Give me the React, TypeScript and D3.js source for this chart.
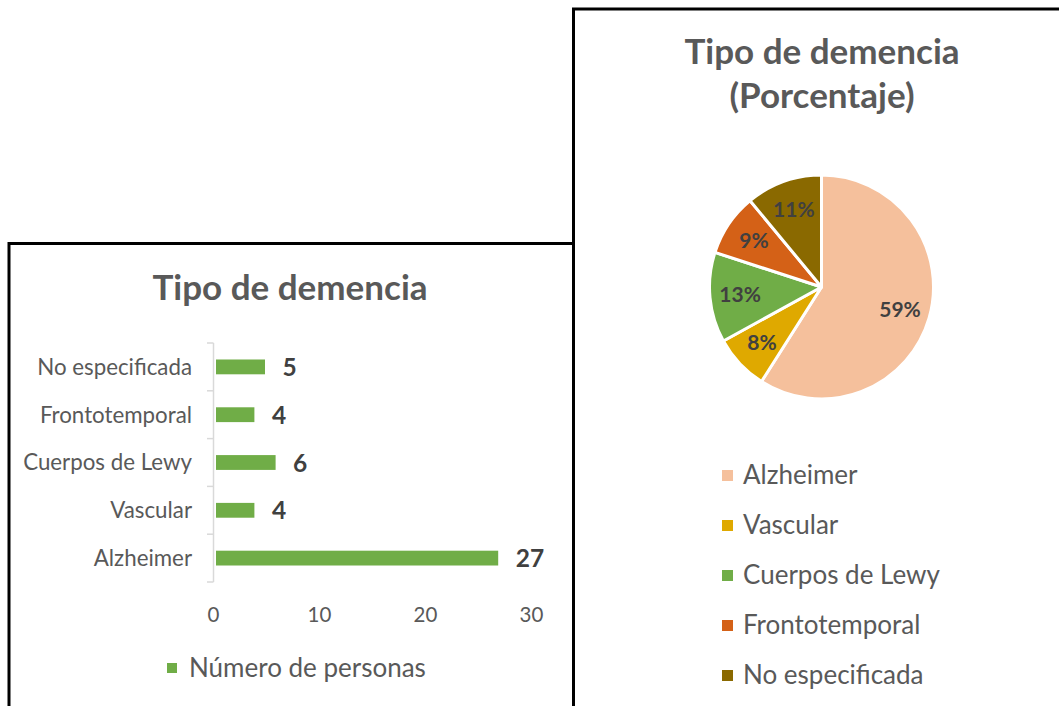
import * as d3 from "d3"

const categories = ["Alzheimer", "Vascular", "Cuerpos de Lewy", "Frontotemporal", "No especificada"]
const personas = [27, 4, 6, 4, 5]
const porcentajes = [59, 8, 13, 9, 11]
const pieColors = ["#F5C09C", "#DFA900", "#70AD47", "#D46117", "#8A6900"]
const xTicks = [0, 10, 20, 30]

const FONT = "Lato, 'Open Sans', sans-serif"
const GRAY = "#595959"
const DARK = "#404040"

export default function App() {
    // left panel: horizontal bars
    const yScale = d3
        .scaleBand<string>()
        .domain([...categories].reverse())
        .range([343, 582])
        .paddingInner(0.69)
        .paddingOuter(0.345)
    const xScale = d3.scaleLinear().domain([0, 30]).range([213.5, 531.5])
    const step = yScale.step()
    const bounds = d3.range(categories.length + 1).map((i) => 343 + i * step)

    // right panel: pie
    const cx = 821.5
    const cy = 287
    const r = 112
    const pie = d3.pie<number>().sort(null)(porcentajes)
    const arc = d3.arc<d3.PieArcDatum<number>>().innerRadius(0).outerRadius(r)
    const labelArc = d3.arc<d3.PieArcDatum<number>>().innerRadius(r * 0.73).outerRadius(r * 0.73)

    return (
        <div style={{ position: "fixed", left: 0, top: 0 }}>
            <svg width={1059} height={706} style={{ display: "block", background: "#fff" }} fontFamily={FONT}>
                {/* panel borders */}
                <path d="M9,720 V243.5 H573.5" fill="none" stroke="#000" strokeWidth={3} />
                <path d="M573.5,720 V9 H1070" fill="none" stroke="#000" strokeWidth={3} />

                {/* bar chart */}
                <text x={290} y={300} textAnchor="middle" fontSize={35} fontWeight="bold" fill={GRAY}>
                    Tipo de demencia
                </text>
                <line x1={213.5} x2={213.5} y1={343} y2={582} stroke="#D9D9D9" strokeWidth={1.5} />
                {bounds.map((b, i) => (
                    <line key={i} x1={207} x2={213.5} y1={b} y2={b} stroke="#D9D9D9" strokeWidth={1.5} />
                ))}
                {categories.map((c, i) => {
                    const y = yScale(c)!
                    const mid = y + yScale.bandwidth() / 2
                    return (
                        <g key={c}>
                            <text x={192} y={mid} dy="0.35em" textAnchor="end" fontSize={22.3} fill={GRAY}>
                                {c}
                            </text>
                            <rect
                                x={xScale(0) + 2.5}
                                y={y}
                                width={xScale(personas[i]) - xScale(0) - 4}
                                height={yScale.bandwidth()}
                                fill="#70AD47"
                            />
                            <text x={xScale(personas[i]) + 16} y={mid} dy="0.37em" fontSize={24.5} fontWeight="bold" fill={DARK}>
                                {personas[i]}
                            </text>
                        </g>
                    )
                })}
                {xTicks.map((t) => (
                    <text key={t} x={xScale(t)} y={622} textAnchor="middle" fontSize={20.5} fill={GRAY}>
                        {t}
                    </text>
                ))}
                <rect x={167} y={663} width={10} height={10} fill="#70AD47" />
                <text x={189} y={677} fontSize={26} fill={GRAY}>
                    Número de personas
                </text>

                {/* pie chart */}
                <text x={822} y={64} textAnchor="middle" fontSize={35} fontWeight="bold" fill={GRAY}>
                    Tipo de demencia
                </text>
                <text x={822} y={108} textAnchor="middle" fontSize={35} fontWeight="bold" fill={GRAY}>
                    (Porcentaje)
                </text>
                <g transform={`translate(${cx},${cy})`}>
                    {pie.map((d, i) => (
                        <path key={i} d={arc(d)!} fill={pieColors[i]} stroke="#fff" strokeWidth={3} strokeLinejoin="round" />
                    ))}
                    {pie.map((d, i) => {
                        const [lx, ly] = labelArc.centroid(d)
                        return (
                            <text key={i} x={lx} y={ly} dy="0.35em" textAnchor="middle" fontSize={21} fontWeight="bold" fill={DARK}>
                                {porcentajes[i]}%
                            </text>
                        )
                    })}
                </g>
                {categories.map((c, i) => (
                    <g key={c}>
                        <rect x={722} y={470 + i * 50} width={11} height={11} fill={pieColors[i]} />
                        <text x={743} y={475 + i * 50} dy="0.36em" fontSize={26} fill={GRAY}>
                            {c}
                        </text>
                    </g>
                ))}
            </svg>
        </div>
    )
}
